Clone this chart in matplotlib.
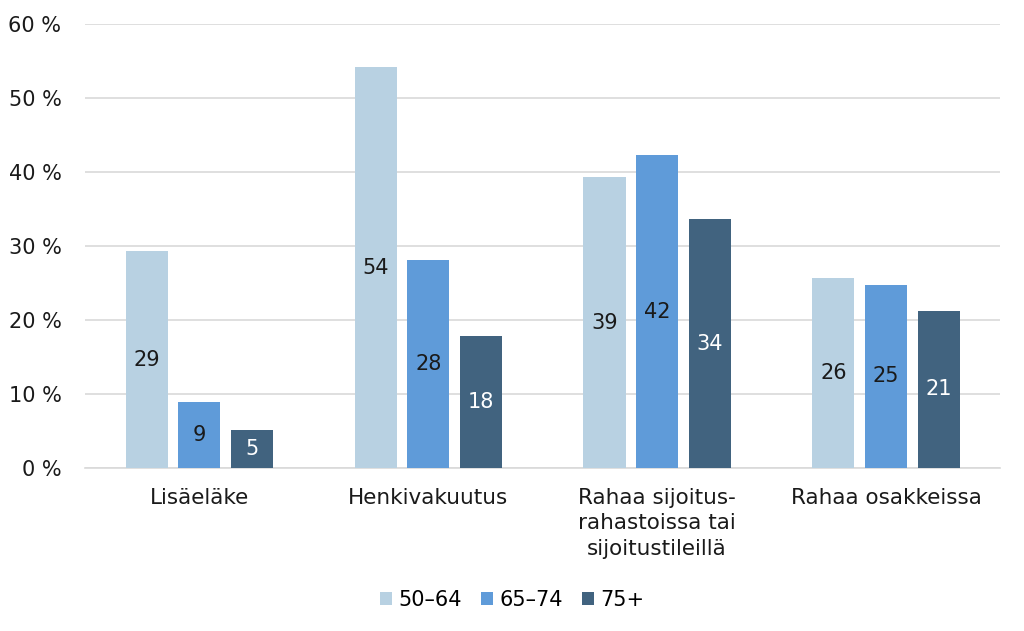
import numpy as np
import matplotlib.pyplot as plt

plt.rcParams['font.family'] = ['DejaVu Sans']

categories = ["Lisäeläke", "Henkivakuutus", "Rahaa sijoitus-\nrahastoissa tai\nsijoitustileillä", "Rahaa osakkeissa"]
groups = ["50–64", "65–74", "75+"]
v_50_64 = [29.3, 54.2, 39.3, 25.7]
v_65_74 = [8.9, 28.1, 42.3, 24.8]
v_75 = [5.1, 17.8, 33.6, 21.3]
colors = ["#B8D1E2", "#5F9BD9", "#41637F"]
label_colors = ["#1a1a1a", "#1a1a1a", "white"]

fig = plt.figure(figsize=(10.24, 6.31), dpi=100)
ax = fig.add_axes([0.083, 0.258, 0.894, 0.704])

x = np.arange(len(categories))
width = 0.184
step = 0.23
for i, vals in enumerate([v_50_64, v_65_74, v_75]):
    pos = x + (i - 1) * step
    bars = ax.bar(pos, vals, width, color=colors[i], label=groups[i], zorder=3)
    for b, v in zip(bars, vals):
        ax.text(b.get_x() + b.get_width() / 2, v / 2, f"{round(v):d}",
                ha='center', va='center', fontsize=15, color=label_colors[i], zorder=4)

ax.set_xlim(-0.5, 3.5)
ax.set_ylim(0, 60)
ax.set_yticks(range(0, 61, 10))
ax.set_yticklabels([f"{t} %" for t in range(0, 61, 10)], fontsize=15, color="#1a1a1a")
ax.set_xticks(x)
ax.set_xticklabels(categories, fontsize=15.5, color="#1a1a1a", va='top', linespacing=1.35)
ax.tick_params(length=0)
ax.tick_params(axis='x', pad=14)
ax.tick_params(axis='y', pad=17)
ax.grid(axis='y', color="#D9D9D9", linewidth=1.2, zorder=0)
for s in ['top', 'right', 'left']:
    ax.spines[s].set_visible(False)
ax.spines['bottom'].set_color("#D9D9D9")
ax.spines['bottom'].set_linewidth(1.2)

fig.legend(loc='center', bbox_to_anchor=(0.5, 0.049), ncol=3, frameon=False,
           fontsize=15, handlelength=0.6, handleheight=0.6, handletextpad=0.3,
           columnspacing=0.9)

fig.savefig("out.png", dpi=100)
